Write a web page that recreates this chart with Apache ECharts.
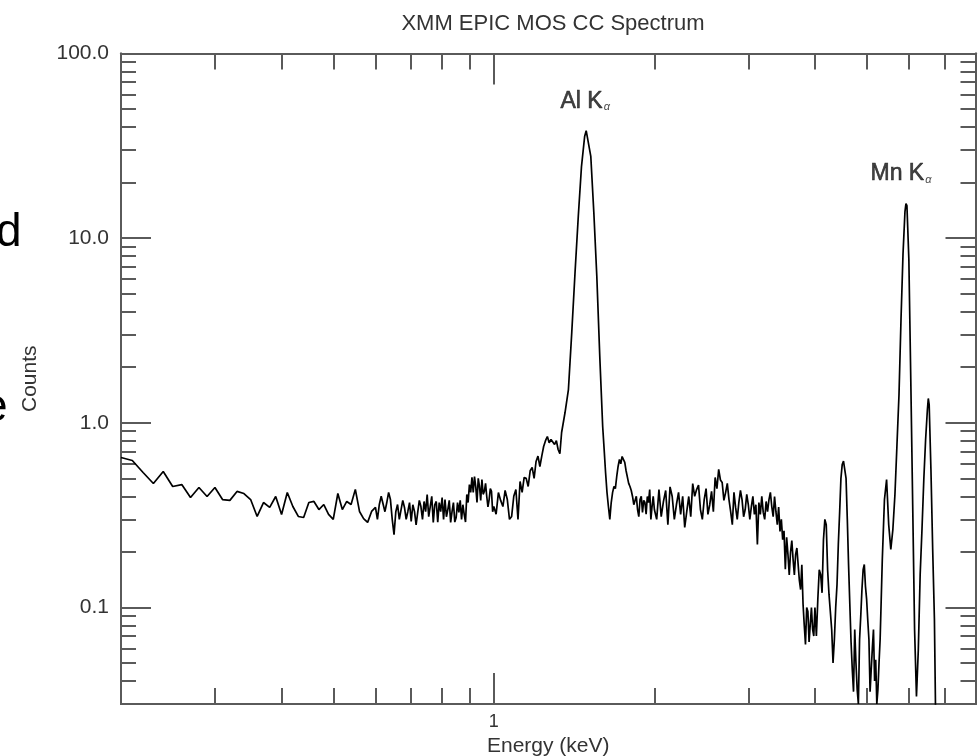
<!DOCTYPE html>
<html>
<head>
<meta charset="utf-8">
<script src="https://cdn.jsdelivr.net/npm/echarts@6/dist/echarts.min.js"></script>
<style>
html,body{margin:0;padding:0;background:#ffffff;overflow:hidden;}
#chart{width:978px;height:756px;}
</style>
</head>
<body>
<div id="chart"></div>
<script>
// ---- Spectrum values (energy in keV, counts) ----
const energySoft = [0.20,0.21,0.22,0.23,0.24,0.25,0.26,0.27,0.28,0.29,0.30,0.31,0.32,0.33,0.34,0.35,0.36,0.37,0.38,0.39,
  0.40,0.41,0.42,0.43,0.44,0.45,0.46,0.47,0.48,0.49,0.50,0.51,0.52,0.53,0.54,0.55,0.56,0.57,0.58,0.59,
  0.60,0.61,0.62,0.63,0.64,0.65,0.66,0.67,0.68,0.69,0.70,0.71,0.72,0.73,0.74,0.75,0.76,0.77,0.78,0.79,
  0.80,0.81,0.82,0.83,0.84,0.85,0.86,0.87,0.88,0.89,0.90,0.91,0.92,0.93,0.94,0.95,0.96,0.97,0.98,0.99,1.00];
const countsSoft = [0.649,0.625,0.538,0.469,0.545,0.452,0.463,0.394,0.446,0.399,0.446,0.384,0.380,0.425,0.414,0.384,0.311,0.370,0.348,0.399,
  0.319,0.419,0.352,0.311,0.307,0.370,0.375,0.339,0.361,0.319,0.300,0.414,0.339,0.375,0.361,0.436,0.331,0.303,0.289,0.331,
  0.348,0.361,0.399,0.370,0.384,0.248,0.361,0.307,0.348,0.331,0.292,0.331,0.327,0.352,0.375,0.409,0.352,0.289,0.375,0.370,
  0.394,0.384,0.339,0.289,0.370,0.307,0.327,0.300,0.319,0.409,0.463,0.506,0.512,0.370,0.452,0.493,0.425,0.399,0.384,0.425,0.352];

// extra bins between 0.6 and 1.0 keV (noise extremes)
const energySoftFine = [0.605,0.615,0.625,0.635,0.645,0.655,0.665,0.675,0.685,0.695,0.705,0.715,0.725,0.735,0.745,0.755,0.765,0.775,0.785,0.795,
  0.805,0.815,0.825,0.835,0.845,0.855,0.865,0.875,0.885,0.895,0.905,0.915,0.925,0.935,0.945,0.955,0.965,0.975,0.985,0.995];
const countsSoftFine = [0.30,0.40,0.33,0.42,0.30,0.33,0.30,0.38,0.30,0.37,0.36,0.28,0.38,0.30,0.33,0.31,0.40,0.36,0.29,0.33,
  0.30,0.31,0.38,0.33,0.29,0.37,0.38,0.36,0.29,0.37,0.42,0.42,0.45,0.50,0.38,0.41,0.47,0.35,0.44,0.33];

const energyAl = [1.02,1.04,1.06,1.08,1.10,1.12,1.14,1.16,1.18,1.20,1.22,1.24,1.26,1.28,1.30,1.32,1.34,1.36,1.38,1.40,
  1.42,1.44,1.46,1.48,1.49,1.50,1.52,1.54,1.56,1.58,1.60,1.62,1.64,1.66,1.68,1.70,1.72,1.74,1.76,1.78,
  1.80,1.82,1.84,1.86,1.88,1.90,1.92,1.94,1.96,1.98,2.00];
const countsAl = [0.419,0.352,0.384,0.311,0.435,0.481,0.506,0.452,0.573,0.617,0.580,0.744,0.843,0.812,0.763,0.717,0.886,1.137,1.514,3.08,
  6.51,13.09,24.4,35.5,38.2,37.3,27.7,13.76,6.20,2.29,0.955,0.538,0.352,0.370,0.452,0.512,0.633,0.657,0.610,0.538,
  0.452,0.399,0.352,0.339,0.384,0.327,0.370,0.399,0.435,0.352,0.339];

// extra bins around the Al line wings
const energyAlFine = [1.01,1.03,1.05,1.07,1.09,1.11,1.13,1.15,1.17,1.19,1.21,1.23,1.25,1.27,1.29,1.31,1.33,
  1.61,1.63,1.65,1.67,1.69,1.71,1.73,1.75,1.77,1.79,1.81,1.83,1.85,1.87,1.89,1.91,1.93,1.95,1.97,1.99];
const countsAlFine = [0.32,0.38,0.43,0.30,0.40,0.30,0.42,0.50,0.55,0.50,0.66,0.66,0.80,0.78,0.80,0.80,0.68,
  0.72,0.42,0.30,0.42,0.44,0.58,0.60,0.66,0.55,0.47,0.43,0.36,0.40,0.31,0.40,0.38,0.32,0.37,0.30,0.40];

const energyMid = [2.04,2.08,2.12,2.16,2.20,2.24,2.28,2.32,2.36,2.40,2.44,2.48,2.52,2.56,2.60,2.64,2.68,2.72,2.76,2.80,
  2.84,2.88,2.92,2.96,3.00,3.04,3.08,3.12,3.16,3.20,3.24,3.28,3.32,3.36,3.40,3.44,3.48,3.52,3.56,3.60,
  3.64,3.68,3.72,3.76,3.80,3.84,3.88,3.92,3.96,4.00];
const countsMid = [0.435,0.375,0.281,0.399,0.361,0.319,0.271,0.399,0.469,0.435,0.339,0.384,0.319,0.425,0.506,0.559,0.475,0.419,0.384,0.281,
  0.348,0.370,0.384,0.339,0.361,0.352,0.319,0.219,0.319,0.327,0.375,0.384,0.352,0.399,0.281,0.258,0.233,0.161,0.194,0.199,
  0.182,0.194,0.171,0.125,0.104,0.063,0.095,0.081,0.076,0.100];

// extra bins in the 2-4 keV band (noise extremes)
const energyMidFine = [2.02,2.06,2.10,2.14,2.18,2.22,2.26,2.30,2.34,2.38,2.42,2.46,2.50,2.54,2.58,2.62,2.66,2.70,2.74,2.78,
  2.82,2.86,2.90,2.94,2.98,3.02,3.06,3.10,3.14,3.18,3.22,3.26,3.30,3.34,3.38,3.42,3.46,3.50,3.54,3.58,
  3.62,3.66,3.70,3.74,3.78,3.82,3.86,3.90,3.94,3.98];
const countsMidFine = [0.30,0.31,0.43,0.45,0.30,0.42,0.40,0.33,0.31,0.40,0.46,0.30,0.44,0.36,0.33,0.44,0.49,0.38,0.47,0.33,
  0.42,0.30,0.43,0.31,0.41,0.30,0.40,0.36,0.37,0.40,0.30,0.33,0.42,0.31,0.33,0.35,0.30,0.26,0.24,0.15,
  0.23,0.15,0.21,0.14,0.17,0.08,0.10,0.065,0.10,0.07];

const energyHard = [4.05,4.10,4.15,4.20,4.25,4.30,4.35,4.40,4.45,4.50,4.55,4.60,4.65,4.70,4.75,4.80,4.85,4.90,4.95,5.00,
  5.05,5.10,5.15,5.20,5.25,5.30,5.35,5.40,5.45,5.50,5.55,5.60,5.65,5.70,5.75,5.80,5.85,5.90,5.925,5.95,
  6.00,6.05,6.10,6.15,6.20,6.25,6.30,6.35,6.40,6.45,6.50,6.525,6.55,6.60,6.65,6.70,6.75];
const countsHard = [0.1105,0.151,0.233,0.281,0.118,0.076,0.067,0.133,0.327,0.595,0.633,0.300,0.104,0.046,0.076,0.036,0.067,0.125,0.171,0.1105,
  0.067,0.046,0.076,0.052,0.036,0.067,0.182,0.384,0.493,0.281,0.206,0.265,0.409,0.763,1.423,3.63,8.15,13.93,15.39,15.01,
  7.66,1.716,0.361,0.076,0.033,0.059,0.151,0.265,0.493,0.812,1.180,1.354,1.256,0.559,0.206,0.086,0.015];

// extra bins in the 4-5.4 keV band (noise extremes)
const energyHardFine = [4.025,4.075,4.125,4.175,4.225,4.275,4.325,4.375,4.425,4.475,4.525,4.575,4.625,4.675,4.725,4.775,4.825,4.875,4.925,4.975,
  5.025,5.075,5.125,5.175,5.225,5.275,5.325];
const countsHardFine = [0.07,0.16,0.12,0.30,0.16,0.095,0.05,0.10,0.22,0.50,0.62,0.50,0.17,0.065,0.035,0.05,0.03,0.09,0.16,0.13,
  0.085,0.035,0.06,0.04,0.03,0.05,0.11];

// ---- Line annotations ----
const lineNames = ['Al K', 'Mn K'];
const lineEnergies = [1.49, 5.925];
const linePeakCounts = [38.2, 15.39];

// ---- Tick marks and labels ----
const xMinorTicks = [0.3,0.4,0.5,0.6,0.7,0.8,0.9,2,3,4,5,6,7];
const xMajorTicks = [1];
const xTickLabels = ['1'];
const yMinorTicks = [0.04,0.05,0.06,0.07,0.08,0.09,0.2,0.3,0.4,0.5,0.6,0.7,0.8,0.9,2,3,4,5,6,7,8,9,20,30,40,50,60,70,80,90];
const yMajorTicks = [0.1,1,10];
const yLabelValues = [0.1,1,10,100];
const yTickLabels = ['0.1','1.0','10.0','100.0'];

const FONT = '"Liberation Sans", Arial, Helvetica, sans-serif';
const AXIS_COLOR = '#5a5a5a';
const TEXT_COLOR = '#333333';

function pairs(es, cs) { return es.map((e, i) => [e, cs[i]]); }
const spectrum = [].concat(
  pairs(energySoft, countsSoft), pairs(energySoftFine, countsSoftFine),
  pairs(energyAl, countsAl), pairs(energyAlFine, countsAlFine),
  pairs(energyMid, countsMid), pairs(energyMidFine, countsMidFine),
  pairs(energyHard, countsHard), pairs(energyHardFine, countsHardFine)
).sort((a, b) => a[0] - b[0]);

function findLabel(values, labels, v) {
  const idx = values.findIndex(t => Math.abs(Math.log10(t) - Math.log10(v)) < 1e-6);
  return idx >= 0 ? labels[idx] : '';
}

function makeAxis(dim, position, ticks, len, extra) {
  const base = {
    type: 'log', logBase: 10,
    min: dim === 'x' ? 0.2 : 0.03,
    max: dim === 'x' ? 8 : 100,
    position: position,
    gridIndex: 0,
    axisLine: { show: true, onZero: false, lineStyle: { color: AXIS_COLOR, width: 2 } },
    axisTick: { show: true, inside: true, length: len, customValues: ticks, lineStyle: { color: AXIS_COLOR, width: 2 } },
    axisLabel: { show: false },
    splitLine: { show: false },
    minorTick: { show: false },
    minorSplitLine: { show: false }
  };
  return Object.assign(base, extra || {});
}

const chart = echarts.init(document.getElementById('chart'), null, { renderer: 'canvas' });

chart.setOption({
  animation: false,
  backgroundColor: '#ffffff',
  title: {
    text: 'XMM EPIC MOS CC Spectrum',
    left: 548, top: 8, textAlign: 'center',
    textStyle: { fontFamily: FONT, fontSize: 22, fontWeight: 'normal', color: TEXT_COLOR }
  },
  grid: { left: 121, right: 2.5, top: 53.5, bottom: 52, containLabel: false, outerBoundsMode: 'none' },
  xAxis: [
    makeAxis('x', 'bottom', xMinorTicks, 16),
    makeAxis('x', 'bottom', xMajorTicks, 31, {
      axisLabel: {
        show: true, customValues: xMajorTicks, margin: 9,
        fontFamily: FONT, fontSize: 18, color: TEXT_COLOR,
        formatter: v => findLabel(xMajorTicks, xTickLabels, v)
      },
      name: 'Energy (keV)', nameLocation: 'middle', nameGap: 29,
      nameTextStyle: { fontFamily: FONT, fontSize: 21, color: TEXT_COLOR }
    }),
    makeAxis('x', 'top', xMinorTicks, 16),
    makeAxis('x', 'top', xMajorTicks, 31)
  ],
  yAxis: [
    makeAxis('y', 'left', yMinorTicks, 15),
    makeAxis('y', 'left', yMajorTicks, 30, {
      axisLabel: {
        show: true, customValues: yLabelValues, margin: 12,
        fontFamily: FONT, fontSize: 21, color: TEXT_COLOR,
        formatter: v => findLabel(yLabelValues, yTickLabels, v)
      },
      name: 'Counts', nameLocation: 'middle', nameGap: 80,
      nameTextStyle: { fontFamily: FONT, fontSize: 21, color: TEXT_COLOR }
    }),
    makeAxis('y', 'right', yMinorTicks, 15),
    makeAxis('y', 'right', yMajorTicks, 30)
  ],
  graphic: [
    { type: 'text', left: -4, top: 210, style: { text: 'd', font: '46px ' + FONT, fill: '#000' } },
    { type: 'text', left: -18, top: 385, style: { text: 'e', font: '46px ' + FONT, fill: '#000' } }
  ],
  series: [
    {
      name: 'Spectrum', type: 'line', xAxisIndex: 0, yAxisIndex: 0,
      data: spectrum, showSymbol: false, symbol: 'none', clip: true,
      lineStyle: { color: '#000000', width: 1.7 },
      z: 3
    },
    {
      name: 'Lines', type: 'scatter', xAxisIndex: 0, yAxisIndex: 0,
      symbolSize: 0, silent: true,
      data: lineEnergies.map((e, i) => ({
        value: [e, linePeakCounts[i]], name: lineNames[i],
        label: { offset: [i === 0 ? -1 : -5, 0] }
      })),
      label: {
        show: true, position: 'top', distance: 18,
        formatter: p => '{m|' + p.name + '}{s|α}',
        rich: {
          m: { fontFamily: FONT, fontSize: 23, color: '#111111', textBorderColor: '#111111', textBorderWidth: 0.6 },
          s: { fontFamily: FONT, fontSize: 11, fontStyle: 'italic', color: '#222222', verticalAlign: 'bottom', padding: [0, 0, 0, 1] }
        }
      },
      z: 4
    }
  ]
});
</script>
</body>
</html>
